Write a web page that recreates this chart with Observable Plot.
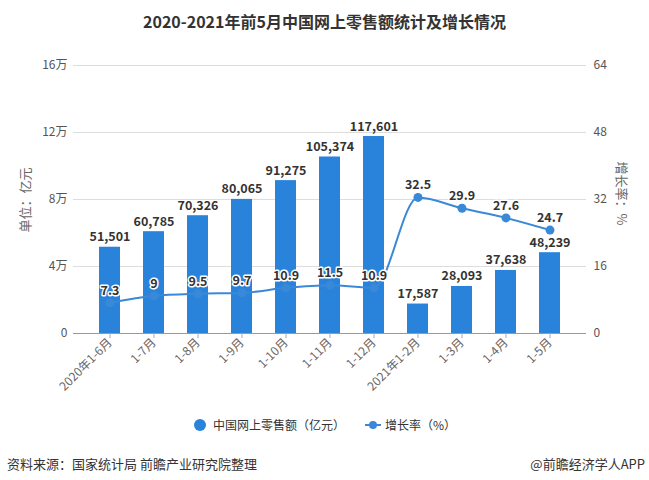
<!DOCTYPE html>
<html><head><meta charset="utf-8">
<script src="https://cdn.jsdelivr.net/npm/d3@7"></script>
<script src="https://cdn.jsdelivr.net/npm/@observablehq/plot@0.6"></script>
<style>
body{margin:0;background:#fff;font-family:"Noto Sans CJK SC","Noto Sans",sans-serif;}
#wrap{position:relative;width:649px;height:480px;overflow:hidden;background:#fff;}
#title{position:absolute;top:0;left:0;width:649px;height:42px;line-height:42px;text-align:center;font-weight:bold;font-size:16px;color:#333;}
#chart{position:absolute;top:40px;left:0;}
.lg{position:absolute;top:416px;height:18px;line-height:18px;font-size:12px;color:#333;}
.foot{position:absolute;top:455px;font-size:13px;color:#333;line-height:18px;}
</style></head>
<body>
<div id="wrap">
  <div id="title"></div>
  <div id="chart"></div>
  <div id="legend"></div>
  <div class="foot" id="src" style="left:7px;"></div>
  <div class="foot" id="brand" style="right:4px;"></div>
</div>
<script>
const title = "2020-2021年前5月中国网上零售额统计及增长情况";
const categories = ["2020年1-6月","1-7月","1-8月","1-9月","1-10月","1-11月","1-12月","2021年1-2月","1-3月","1-4月","1-5月"];
const sales = [51501,60785,70326,80065,91275,105374,117601,17587,28093,37638,48239];
const growth = [7.3,9,9.5,9.7,10.9,11.5,10.9,32.5,29.9,27.6,24.7];
const leftTickValues = [0,40000,80000,120000,160000];
const leftTickLabels = ["0","4万","8万","12万","16万"];
const rightTickLabels = [0,16,32,48,64];
const leftTitle = "单位：亿元";
const rightTitle = "增长率：%";
const legendSales = "中国网上零售额（亿元）";
const legendGrowth = "增长率（%）";
const sourceText = "资料来源：国家统计局 前瞻产业研究院整理";
const brandText = "@前瞻经济学人APP";

const barColor = "#2a83da";
const lineColor = "#3a89d9";
const ratio = 160000 / 64;

const data = categories.map((c, i) => ({cat: c, sales: sales[i], growth: growth[i]}));

document.getElementById("title").textContent = title;
document.getElementById("src").textContent = sourceText;
document.getElementById("brand").textContent = brandText;

const chart = Plot.plot({
  width: 649,
  height: 360,
  marginTop: 25,
  marginBottom: 67,
  marginLeft: 73,
  marginRight: 63,
  style: {fontFamily: '"Noto Sans CJK SC","Noto Sans",sans-serif', fontSize: "12px", background: "#fff"},
  x: {domain: categories, paddingInner: 0.533, paddingOuter: 0.467, label: null},
  y: {domain: [0, 160000], label: null},
  marks: [
    Plot.gridY(leftTickValues, {stroke: "#dddddd", strokeOpacity: 1}),
    Plot.axisY({anchor: "left", ticks: leftTickValues, tickFormat: d => leftTickLabels[leftTickValues.indexOf(d)], tickSize: 0, tickPadding: 6, color: "#555", label: null, fontSize: 12}),
    Plot.axisY({anchor: "right", ticks: leftTickValues, tickFormat: d => String(rightTickLabels[leftTickValues.indexOf(d)]), tickSize: 0, tickPadding: 7, color: "#555", label: null, fontSize: 12}),
    Plot.barY(data, {x: "cat", y: "sales", fill: barColor}),
    Plot.ruleY([0], {stroke: "#999"}),
    Plot.axisX({tickRotate: -45, tickSize: 5, tickPadding: 2, color: "#666", label: null, fontSize: 12, stroke: "#aaa"}),
    Plot.lineY(data, {x: "cat", y: d => d.growth * ratio, stroke: lineColor, strokeWidth: 2, curve: "monotone-x"}),
    Plot.dot(data, {x: "cat", y: d => d.growth * ratio, r: 4.5, fill: lineColor}),
    Plot.text(data, {x: "cat", y: "sales", text: d => d3.format(",")(d.sales), dy: -10, fontWeight: "bold", fontSize: 12.5, fill: "#333"}),
    Plot.text(data, {x: "cat", y: d => d.growth * ratio, text: d => String(d.growth), dy: -12, fontWeight: "bold", fontSize: 12.5, fill: "#333", stroke: "white", strokeWidth: 3}),
    Plot.text([leftTitle], {frameAnchor: "left", rotate: -90, dx: -48, dy: 33, fill: "#666", fontSize: 13}),
    Plot.text([rightTitle], {frameAnchor: "right", rotate: 90, dx: 35, dy: 26, fill: "#666", fontSize: 13})
  ]
});
document.getElementById("chart").appendChild(chart);

const legend = document.getElementById("legend");
legend.innerHTML = `
  <div class="lg" style="left:193px;"><svg width="14" height="18"><circle cx="7" cy="9" r="6" fill="${barColor}"/></svg></div>
  <div class="lg" id="lg1" style="left:213px;"></div>
  <div class="lg" style="left:364px;"><svg width="18" height="18"><line x1="1" y1="9" x2="17" y2="9" stroke="${lineColor}" stroke-width="2"/><circle cx="9" cy="9" r="4" fill="${lineColor}"/></svg></div>
  <div class="lg" id="lg2" style="left:385px;"></div>`;
document.getElementById("lg1").textContent = legendSales;
document.getElementById("lg2").textContent = legendGrowth;
</script>
</body></html>
